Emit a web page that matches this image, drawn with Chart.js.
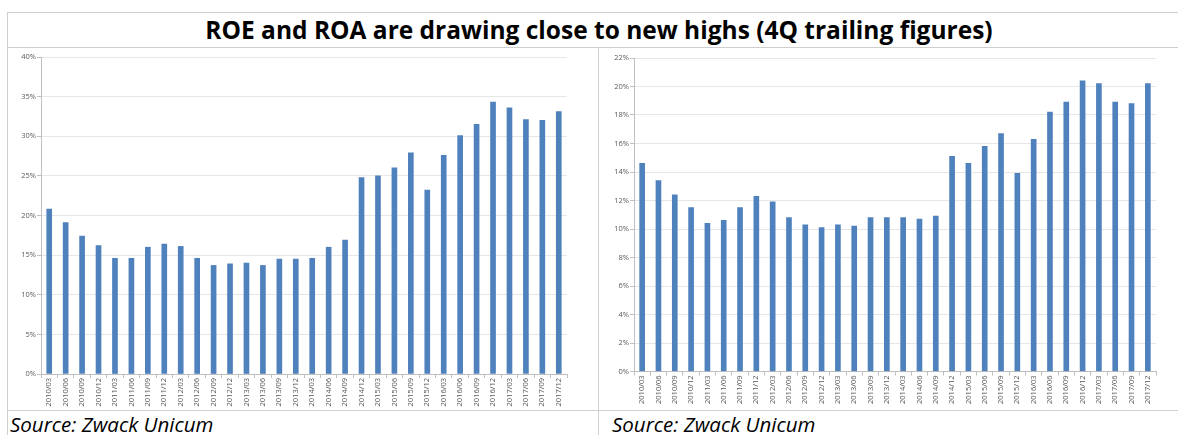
<!DOCTYPE html>
<html>
<head>
<meta charset="utf-8">
<script src="https://cdn.jsdelivr.net/npm/chart.js@4"></script>
<style>
  html, body { margin: 0; padding: 0; background: #fff; }
  #page { position: relative; width: 1178px; height: 435px; overflow: hidden; font-family: "Open Sans", sans-serif; }
  .line { position: absolute; background: #cfcfcf; }
  #title { position: absolute; left: 8px; top: 12px; width: 1182px; height: 35px; line-height: 35px;
           text-align: center; font-weight: 700; font-size: 24.5px; color: #000; white-space: nowrap; }
  .source { position: absolute; top: 410px; font-style: italic; font-size: 20.5px; color: #000; white-space: nowrap; }
  canvas { position: absolute; }
</style>
</head>
<body>
<div id="page">
  <div class="line" style="left:7px;top:12px;width:1171px;height:1px"></div>
  <div class="line" style="left:7px;top:47px;width:1171px;height:1px"></div>
  <div class="line" style="left:7px;top:410px;width:1171px;height:1px"></div>
  <div class="line" style="left:7px;top:12px;width:1px;height:423px"></div>
  <div class="line" style="left:598px;top:47px;width:1px;height:388px"></div>
  <div id="title">ROE and ROA are drawing close to new highs (4Q trailing figures)</div>
  <canvas id="chart-roe" width="590" height="362" style="left:0px;top:48px"></canvas>
  <canvas id="chart-roa" width="580" height="362" style="left:598px;top:48px"></canvas>
  <div class="source" style="left:10px">Source: Zwack Unicum</div>
  <div class="source" style="left:612px">Source: Zwack Unicum</div>
</div>
<script>
const quarters = [
  '2010/03', '2010/06', '2010/09', '2010/12', '2011/03', '2011/06', '2011/09', '2011/12',
  '2012/03', '2012/06', '2012/09', '2012/12', '2013/03', '2013/06', '2013/09', '2013/12',
  '2014/03', '2014/06', '2014/09', '2014/12', '2015/03', '2015/06', '2015/09', '2015/12',
  '2016/03', '2016/06', '2016/09', '2016/12', '2017/03', '2017/06', '2017/09', '2017/12'
];

// ROE, 4Q trailing, in %
const roeValues = [
  20.8, 19.1, 17.4, 16.2, 14.6, 14.6, 16.0, 16.4, 16.1, 14.6, 13.7, 13.9, 14.0, 13.7, 14.5, 14.5,
  14.6, 16.0, 16.9, 24.8, 25.0, 26.0, 27.9, 23.2, 27.6, 30.1, 31.5, 34.3, 33.6, 32.1, 32.0, 33.1
];

// ROA, 4Q trailing, in %
const roaValues = [
  14.6, 13.4, 12.4, 11.5, 10.4, 10.6, 11.5, 12.3, 11.9, 10.8, 10.3, 10.1, 10.3, 10.2, 10.8, 10.8,
  10.8, 10.7, 10.9, 15.1, 14.6, 15.8, 16.7, 13.9, 16.3, 18.2, 18.9, 20.4, 20.2, 18.9, 18.8, 20.2
];

// y axis ranges: [max, step]
const roeAxis = [40, 5];
const roaAxis = [22, 2];

const BAR_COLOR = '#4F81BD';
const TICK_COLOR = '#595959';
const TICK_FONT = { family: 'Open Sans', size: 7.5 };

// --------------------------------------------------------------------
// one excel-style column chart
// --------------------------------------------------------------------
function makeBarChart(canvasId, values, axis, box) {
  const ctx = document.getElementById(canvasId).getContext('2d');
  return new Chart(ctx, {
    type: 'bar',
    data: {
      labels: quarters,
      datasets: [{
        data: values,
        backgroundColor: BAR_COLOR,
        borderWidth: 0,
        barThickness: 5
      }]
    },
    options: {
      responsive: false,
      animation: false,
      devicePixelRatio: 1,
      layout: { padding: { top: box.top, right: box.right, left: 0, bottom: 0 } },
      plugins: {
        legend: { display: false },
        tooltip: { enabled: false },
        title: { display: false }
      },
      scales: {
        x: {
          offset: true,
          border: { display: true, color: '#bfbfbf' },
          grid: { display: true, drawOnChartArea: false, drawTicks: true, tickLength: 4, tickColor: '#bfbfbf' },
          ticks: {
            color: TICK_COLOR, font: TICK_FONT, autoSkip: false,
            minRotation: 90, maxRotation: 90, padding: 0
          },
          afterFit: (scale) => { scale.height = box.xHeight; }
        },
        y: {
          min: 0,
          max: axis[0],
          border: { display: true, color: '#bfbfbf' },
          grid: { color: '#e6e6e6', tickColor: '#bfbfbf', tickLength: 4 },
          ticks: {
            stepSize: axis[1], color: TICK_COLOR, font: TICK_FONT, padding: 1,
            callback: (v) => v + '%'
          },
          afterFit: (scale) => { scale.width = box.yWidth; }
        }
      }
    }
  });
}

makeBarChart('chart-roe', roeValues, roeAxis, { top: 9, right: 23, yWidth: 41, xHeight: 36 });
makeBarChart('chart-roa', roaValues, roaAxis, { top: 10, right: 22, yWidth: 36, xHeight: 38.5 });
</script>
</body>
</html>
